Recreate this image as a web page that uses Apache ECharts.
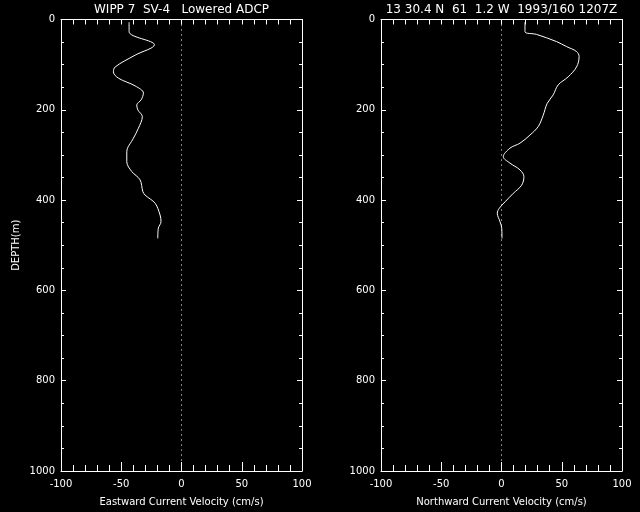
<!DOCTYPE html>
<html><head><meta charset="utf-8">
<script src="https://cdn.jsdelivr.net/npm/echarts@6/dist/echarts.min.js"></script>
<style>html,body{margin:0;padding:0;background:#000;}#c{width:640px;height:512px;}</style>
</head><body><div id="c"></div>
<script>
// Eastward profile
const depthE = [6,27,56,79,105,116,130,147,163,178,189,200,215,241,263,293,315,337,355,381,389,407,433,448,462,485];
const eastward = [-43.5,-43.5,-22.5,-38.5,-55,-56.5,-52.3,-38.5,-31.6,-33.5,-37.1,-36.3,-32.5,-35.8,-39.9,-45.4,-45.4,-41.2,-34.4,-32.1,-30.2,-21.9,-17.8,-17,-19.2,-19.7];
// Northward profile
const depthN = [6,27,33,49,60,71,82,105,127,145,167,186,212,237,256,274,285,304,318,333,348,367,385,404,418,429,448,462,485];
const northward = [19.5,19.5,29.1,45.7,54,62.3,64.4,62.3,55.3,47,42.9,37.9,34.6,30.5,23.6,15.3,7,1.5,7,15.3,18.6,16.7,9.8,2.9,-1.8,-3.5,-1.2,0.2,0.4];
const xTicks = [-100,-50,0,50,100];
const yTicks = [0,200,400,600,800,1000];
const titleLeft = "WIPP 7  SV-4   Lowered ADCP";
const titleRight = "13 30.4 N  61  1.2 W  1993/160 1207Z";
const xNameLeft = "Eastward Current Velocity (cm/s)";
const xNameRight = "Northward Current Velocity (cm/s)";
const yName = "DEPTH(m)";

const FONT = "DejaVu Sans";
const W = "#ffffff";
const chart = echarts.init(document.getElementById('c'), null, {renderer:'canvas'});

function xAx(grid, pos, name, labels){
  return {type:'value', gridIndex:grid, position:pos, min:xTicks[0], max:xTicks[xTicks.length-1], interval:50,
    axisLine:{show:true, onZero:false, lineStyle:{color:W,width:1}},
    axisTick:{show:true, inside:true, length:pos==='bottom'?9:5, lineStyle:{color:W}},
    minorTick:{show:true, splitNumber:5, length:pos==='bottom'?6:5, lineStyle:{color:W}},
    splitLine:{show:false},
    axisLabel:{show:labels, color:W, fontFamily:FONT, fontSize:10, margin:8, formatter:v=>String(v)},
    name:name, nameLocation:'middle', nameGap:26,
    nameTextStyle:{color:W, fontFamily:FONT, fontSize:10}};
}
function yAx(grid, pos, name, labels){
  return {type:'value', gridIndex:grid, position:pos, inverse:true, min:yTicks[0], max:yTicks[yTicks.length-1], interval:200,
    axisLine:{show:true, onZero:false, lineStyle:{color:W,width:1}},
    axisTick:{show:true, inside:true, length:5, lineStyle:{color:W}},
    minorTick:{show:true, splitNumber:4, length:3, lineStyle:{color:W}},
    splitLine:{show:false},
    axisLabel:{show:labels, color:W, fontFamily:FONT, fontSize:10, margin:6, formatter:v=>String(v)},
    name:name, nameLocation:'middle', nameGap:40, nameRotate:90,
    nameTextStyle:{color:W, fontFamily:FONT, fontSize:10}};
}
function prof(xs, ds){ return xs.map((v,i)=>[v, ds[i]]); }
const zeroLine = {silent:true, symbol:['none','none'], label:{show:false},
  lineStyle:{color:W, type:[1,4], width:1}, data:[{xAxis:0}]};

chart.setOption({
  backgroundColor:'#000',
  animation:false,
  grid:[
    {left:61, top:19.5, right:338, bottom:41},
    {left:381, top:19.5, right:18, bottom:41}
  ],
  xAxis:[ xAx(0,'bottom',xNameLeft,true), xAx(0,'top','',false),
          xAx(1,'bottom',xNameRight,true), xAx(1,'top','',false) ],
  yAxis:[ yAx(0,'left',yName,true), yAx(0,'right','',false),
          yAx(1,'left','',true), yAx(1,'right','',false) ],
  series:[
    {type:'line', xAxisIndex:0, yAxisIndex:0, data:prof(eastward, depthE), showSymbol:false, smooth:0.35,
     lineStyle:{color:W, width:1}, markLine:zeroLine},
    {type:'line', xAxisIndex:2, yAxisIndex:2, data:prof(northward, depthN), showSymbol:false, smooth:0.35,
     lineStyle:{color:W, width:1}, markLine:zeroLine}
  ],
  graphic:[
    {type:'text', x:181.5, y:9.5, style:{text:titleLeft, fill:W, font:'12px "'+FONT+'"', textAlign:'center', textVerticalAlign:'middle'}},
    {type:'text', x:501.5, y:9.5, style:{text:titleRight, fill:W, font:'12px "'+FONT+'"', textAlign:'center', textVerticalAlign:'middle'}}
  ]
});
</script></body></html>
